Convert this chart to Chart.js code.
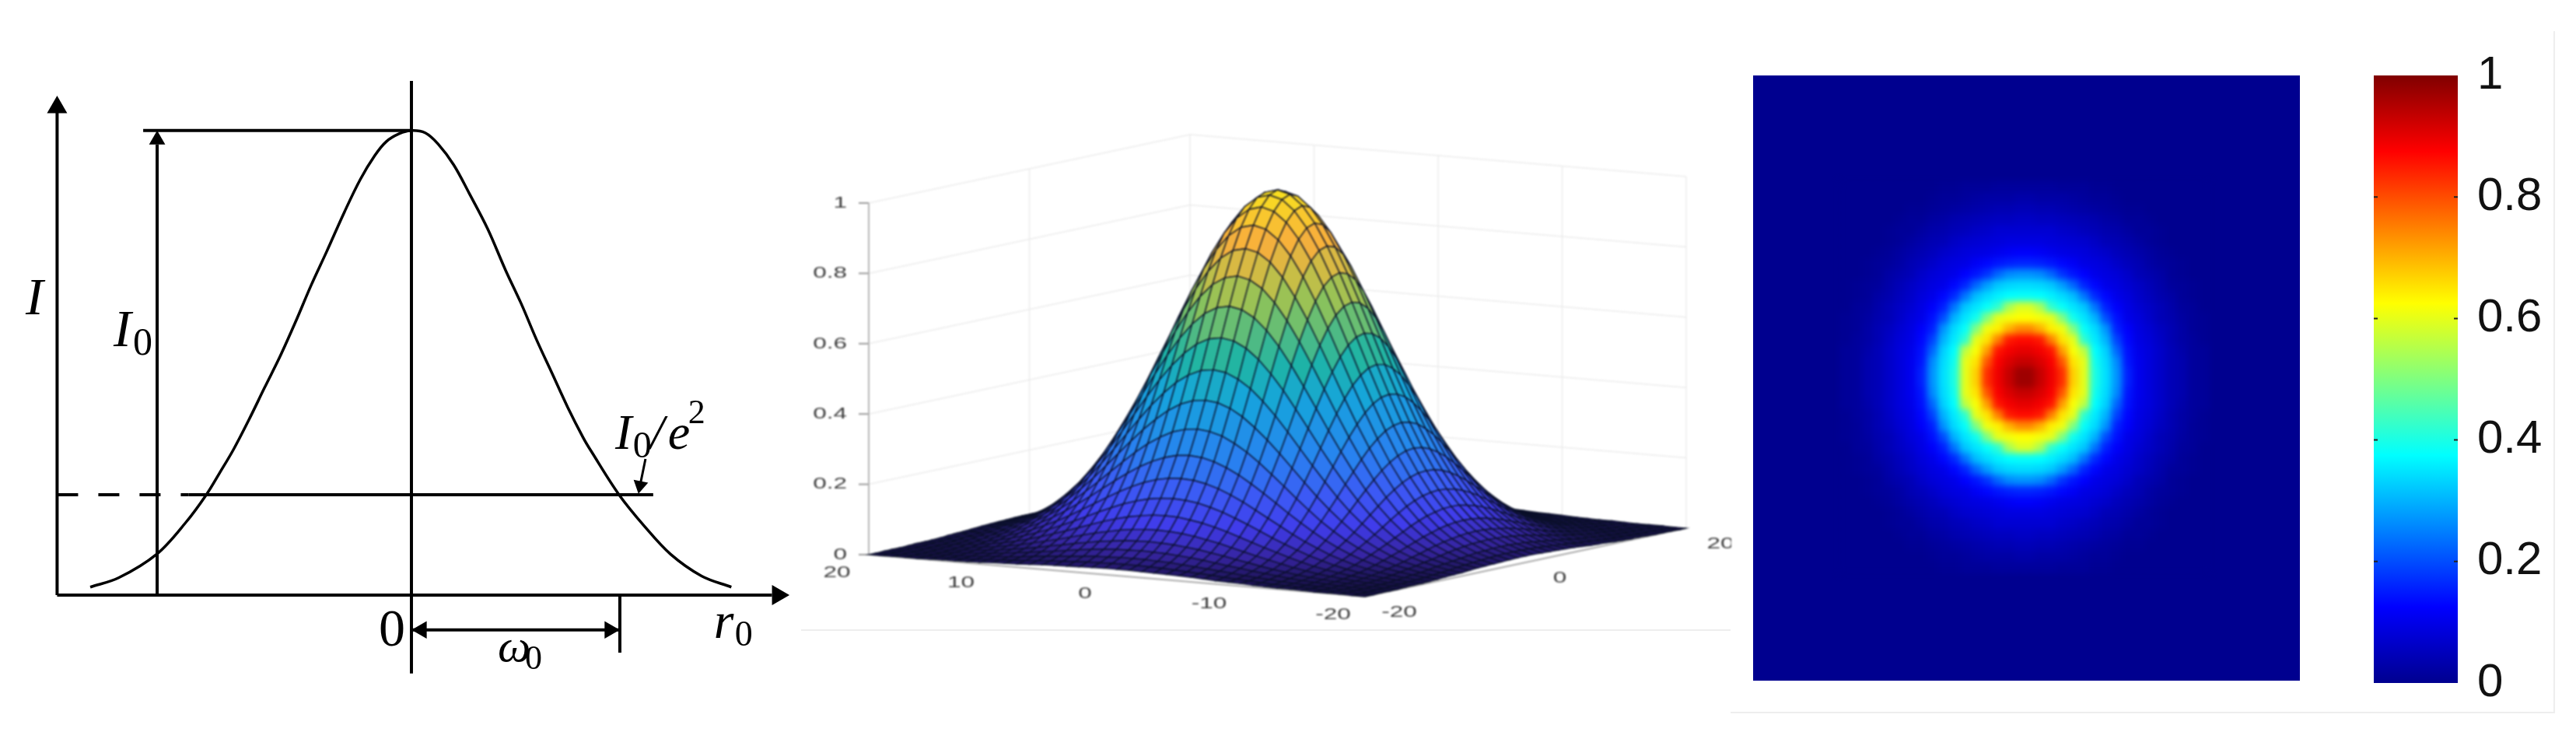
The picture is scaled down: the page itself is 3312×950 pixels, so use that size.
<!DOCTYPE html>
<html>
<head>
<meta charset="utf-8">
<title>Gaussian beam profile</title>
<script src="https://cdn.jsdelivr.net/npm/chart.js@4/dist/chart.umd.min.js"></script>
<style>
  html, body { margin: 0; padding: 0; background: #fff; }
  #page { position: relative; width: 3312px; height: 950px; overflow: hidden; }
  canvas { position: absolute; display: block; }
  #profile-chart { left: 0; top: 0; }
  #surface-chart { left: 1040px; top: 0; filter: blur(0.8px); }
  #heat-box { position: absolute; left: 2254px; top: 97px; width: 703px; height: 778px; background: #00008f; overflow: hidden; }
  #heat-chart { left: 0; top: 0; filter: blur(4px); }
  #bar-chart { left: 3036px; top: 0; }
  .rule { position: absolute; background: #eee; }
</style>
</head>
<body>
<div id="page">
  <canvas id="profile-chart" width="1040" height="950"></canvas>
  <canvas id="surface-chart" width="1186" height="950"></canvas>
  <div class="rule" style="left:1030px;top:809px;width:1195px;height:2px"></div>
  <div class="rule" style="left:2225px;top:915px;width:1058px;height:2px"></div>
  <div class="rule" style="left:3283px;top:40px;width:2px;height:877px"></div>
  <div id="heat-box"><canvas id="heat-chart" width="703" height="778"></canvas></div>
  <canvas id="bar-chart" width="276" height="950"></canvas>
</div>
<script>
// left panel: r in units of omega0, I in units of I0
const beamR = [-1.541, -1.405, -1.222, -1.083, -0.984, -0.920, -0.854, -0.780, -0.705, -0.631, -0.556, -0.481, -0.407, -0.320, -0.245, -0.176, -0.121, -0.059, 0, 0.066, 0.128, 0.203, 0.277, 0.365, 0.451, 0.526, 0.601, 0.675, 0.750, 0.825, 0.862, 0.996, 1.120, 1.243, 1.392, 1.535];
const beamI = [0.017, 0.037, 0.088, 0.156, 0.216, 0.263, 0.313, 0.377, 0.446, 0.513, 0.588, 0.667, 0.739, 0.826, 0.895, 0.946, 0.976, 0.993, 1, 0.995, 0.971, 0.926, 0.865, 0.789, 0.700, 0.628, 0.549, 0.477, 0.404, 0.338, 0.310, 0.216, 0.147, 0.088, 0.041, 0.017];
const peakI = 1;
const waistR = 1;
const thresholdI = 0.216;

// middle panel: heights for |u|, |v| = 0..20, the surface is the same in all four quadrants
const surfaceQuadrant = [
  [1.000, .990, .961, .914, .852, .779, .698, .613, .527, .445, .368, .298, .237, .185, .141, .105, .077, .056, .039, .027, .018],
  [.990, .980, .951, .905, .844, .771, .691, .607, .522, .441, .364, .295, .235, .183, .140, .104, .076, .055, .039, .027, .018],
  [.961, .951, .923, .878, .819, .749, .671, .589, .506, .428, .354, .286, .228, .178, .135, .101, .074, .054, .037, .026, .017],
  [.914, .905, .878, .835, .779, .712, .638, .560, .482, .407, .336, .272, .217, .169, .129, .096, .070, .051, .036, .025, .016],
  [.852, .844, .819, .779, .726, .664, .595, .522, .449, .379, .314, .254, .202, .158, .120, .089, .066, .048, .033, .023, .015],
  [.779, .771, .749, .712, .664, .607, .544, .478, .411, .347, .287, .232, .185, .144, .110, .082, .060, .044, .030, .021, .014],
  [.698, .691, .671, .638, .595, .544, .487, .428, .368, .311, .257, .208, .165, .129, .098, .073, .054, .039, .027, .019, .013],
  [.613, .607, .589, .560, .522, .478, .428, .376, .323, .273, .226, .183, .145, .113, .086, .064, .047, .034, .024, .017, .011],
  [.527, .522, .506, .482, .449, .411, .368, .323, .278, .235, .194, .157, .125, .097, .074, .055, .041, .030, .021, .014, .009],
  [.445, .441, .428, .407, .379, .347, .311, .273, .235, .198, .164, .133, .105, .082, .063, .047, .034, .025, .017, .012, .008],
  [.368, .364, .354, .336, .314, .287, .257, .226, .194, .164, .135, .110, .087, .068, .052, .039, .028, .021, .014, .010, .007],
  [.298, .295, .286, .272, .254, .232, .208, .183, .157, .133, .110, .089, .071, .055, .042, .031, .023, .017, .012, .008, .005],
  [.237, .235, .228, .217, .202, .185, .165, .145, .125, .105, .087, .071, .056, .044, .033, .025, .018, .013, .009, .006, .004],
  [.185, .183, .178, .169, .158, .144, .129, .113, .097, .082, .068, .055, .044, .034, .026, .019, .014, .010, .007, .005, .003],
  [.141, .140, .135, .129, .120, .110, .098, .086, .074, .063, .052, .042, .033, .026, .020, .015, .011, .008, .005, .004, .003],
  [.105, .104, .101, .096, .089, .082, .073, .064, .055, .047, .039, .031, .025, .019, .015, .011, .008, .006, .004, .003, .002],
  [.077, .076, .074, .070, .066, .060, .054, .047, .041, .034, .028, .023, .018, .014, .011, .008, .006, .004, .003, .002, .001],
  [.056, .055, .054, .051, .048, .044, .039, .034, .030, .025, .021, .017, .013, .010, .008, .006, .004, .003, .002, .002, .001],
  [.039, .039, .037, .036, .033, .030, .027, .024, .021, .017, .014, .012, .009, .007, .005, .004, .003, .002, .002, .001, .001],
  [.027, .027, .026, .025, .023, .021, .019, .017, .014, .012, .010, .008, .006, .005, .004, .003, .002, .002, .001, .001, 0],
  [.018, .018, .017, .016, .015, .014, .013, .011, .009, .008, .007, .005, .004, .003, .003, .002, .001, .001, .001, 0, 0]
];
const zTicks = [0, 0.2, 0.4, 0.6, 0.8, 1];
const uTicks = [20, 10, 0, -10, -20];
const vTicks = [-20, 0, 20];
const wallU = [20, 10, 0, -10, -20];

// right panel: normalised intensity, one quadrant of cells away from the centre
const heatQuadrant = [
  [.97, .93, .89, .83, .67, .60, .40, .345, .27, .155, .105, .085, .065, .045, .035, .015, .01],
  [.93, .91, .88, .79, .65, .60, .39, .34, .26, .145, .105, .085, .065, .045, .035, .015, .01],
  [.90, .885, .855, .72, .62, .56, .375, .33, .225, .14, .10, .085, .065, .045, .03, .015, .01],
  [.865, .85, .75, .65, .60, .42, .355, .30, .19, .13, .095, .08, .06, .04, .025, .015, .005],
  [.74, .70, .64, .61, .50, .38, .34, .27, .155, .12, .09, .075, .055, .04, .025, .01, .005],
  [.625, .615, .60, .50, .39, .35, .30, .20, .14, .10, .085, .065, .045, .035, .02, .01, .005],
  [.59, .54, .42, .38, .35, .32, .24, .155, .12, .095, .075, .06, .045, .03, .015, .01, 0],
  [.38, .375, .36, .34, .31, .24, .165, .13, .10, .085, .065, .05, .035, .025, .01, .005, 0],
  [.34, .335, .32, .28, .225, .16, .13, .10, .09, .075, .06, .045, .03, .015, .01, .005, 0],
  [.27, .26, .225, .175, .145, .125, .10, .09, .08, .065, .045, .035, .025, .01, .005, 0, 0],
  [.16, .155, .145, .13, .115, .095, .09, .08, .065, .05, .04, .025, .015, .01, .005, 0, 0],
  [.12, .115, .105, .095, .09, .085, .075, .065, .05, .04, .03, .02, .01, .005, 0, 0, 0],
  [.09, .09, .085, .08, .075, .07, .06, .045, .04, .03, .02, .01, .005, 0, 0, 0, 0],
  [.075, .075, .075, .065, .06, .05, .045, .035, .03, .02, .01, .01, .005, 0, 0, 0, 0],
  [.06, .055, .055, .05, .045, .04, .035, .025, .02, .01, .01, .005, 0, 0, 0, 0, 0],
  [.045, .04, .04, .035, .03, .025, .02, .015, .01, .005, .005, 0, 0, 0, 0, 0, 0],
  [.03, .025, .025, .025, .02, .015, .01, .01, .005, 0, 0, 0, 0, 0, 0, 0, 0],
  [.015, .015, .015, .01, .01, .01, .005, .005, 0, 0, 0, 0, 0, 0, 0, 0, 0]
];
const barRange = [0, 1];
const barTicks = [0, 0.2, 0.4, 0.6, 0.8, 1];

const jetStops = [[0, [0, 0, 143]], [0.125, [0, 0, 255]], [0.375, [0, 255, 255]], [0.625, [255, 255, 0]], [0.875, [255, 0, 0]], [1, [128, 0, 0]]];
const surfaceStops = [[0, [24, 16, 72]], [0.05, [54, 36, 160]], [0.12, [64, 60, 235]], [0.2, [60, 90, 245]], [0.3, [40, 130, 240]], [0.45, [22, 165, 220]], [0.55, [30, 180, 165]], [0.7, [140, 195, 90]], [0.78, [200, 190, 70]], [0.87, [248, 175, 60]], [1, [248, 225, 30]]];

function colorAt(stops, value) {
  for (let i = 1; i < stops.length; i++) {
    if (value <= stops[i][0]) {
      const [a, ca] = stops[i - 1];
      const [b, cb] = stops[i];
      const t = (value - a) / (b - a);
      const rgb = ca.map((c, k) => Math.round(c + (cb[k] - c) * t));
      return `rgb(${rgb.join(',')})`;
    }
  }
  return `rgb(${stops[stops.length - 1][1].join(',')})`;
}

function hiddenScales(xMin, xMax, yMin, yMax, reverseY) {
  return {
    x: { type: 'linear', display: false, min: xMin, max: xMax },
    y: { type: 'linear', display: false, min: yMin, max: yMax, reverse: !!reverseY }
  };
}

const baseOptions = {
  responsive: false,
  animation: false,
  events: [],
  layout: { autoPadding: false, padding: 0 },
  plugins: { legend: { display: false }, tooltip: { enabled: false } }
};

// ---------- left panel ----------
function blackLine(points, extra = {}) {
  return {
    data: points.map(([x, y]) => ({ x, y })),
    showLine: true,
    borderColor: '#000',
    borderWidth: 4,
    pointRadius: 0,
    fill: false,
    ...extra
  };
}

const serifItalic = size => `italic ${size}px "Liberation Serif"`;
const serif = size => `${size}px "Liberation Serif"`;
const profileLabels = [
  { text: 'I', r: -1.851, i: 0.605, font: serifItalic(68) },
  { text: 'I', r: -1.429, i: 0.536, font: serifItalic(68) },
  { text: '0', r: -1.336, i: 0.518, font: serif(50) },
  { text: 'I', r: 0.978, i: 0.315, font: serifItalic(64) },
  { text: '0', r: 1.063, i: 0.296, font: serif(48) },
  { text: '/', r: 1.146, i: 0.315, font: serifItalic(64) },
  { text: 'e', r: 1.231, i: 0.315, font: serifItalic(64) },
  { text: '2', r: 1.328, i: 0.370, font: serif(44) },
  { text: '0', r: -0.157, i: -0.109, font: serif(68) },
  { text: 'ω', r: 0.414, i: -0.142, font: serifItalic(60) },
  { text: '0', r: 0.545, i: -0.159, font: serif(44) },
  { text: 'r', r: 1.451, i: -0.092, font: serifItalic(66) },
  { text: '0', r: 1.552, i: -0.109, font: serif(46) }
];

const profileText = {
  id: 'profileText',
  afterDatasetsDraw(chart) {
    const { ctx, scales } = chart;
    ctx.save();
    ctx.fillStyle = '#000';
    ctx.textBaseline = 'alphabetic';
    profileLabels.forEach(l => {
      ctx.font = l.font;
      ctx.fillText(l.text, scales.x.getPixelForValue(l.r), scales.y.getPixelForValue(l.i));
    });
    ctx.restore();
  }
};

new Chart(document.getElementById('profile-chart'), {
  type: 'scatter',
  data: {
    datasets: [
      {
        data: [
          { x: -1.70, y: 1.050 }, { x: 1.758, y: 0 }, { x: -1.22, y: 0.980 },
          { x: 0.049, y: -0.075 }, { x: 0.951, y: -0.075 }, { x: 1.097, y: 0.236 }
        ],
        pointStyle: 'triangle',
        pointRadius: [15, 15, 12, 13, 13, 11],
        pointRotation: [0, 90, 0, 270, 90, 191],
        backgroundColor: '#000',
        borderWidth: 0
      },
      blackLine(beamR.map((r, k) => [r, beamI[k]]), { tension: 0.35, borderWidth: 3.5 }),
      blackLine([[-1.70, 0], [-1.70, 1.04]]),
      blackLine([[-1.70, 0], [1.73, 0]]),
      blackLine([[0, 1.107], [0, -0.169]]),
      blackLine([[-1.287, peakI], [0, peakI]]),
      blackLine([[-1.22, 0], [-1.22, 0.97]]),
      blackLine([[-1.70, thresholdI], [-1.07, thresholdI]], { borderDash: [27, 26] }),
      blackLine([[-1.07, thresholdI], [1.16, thresholdI]]),
      blackLine([[0, -0.075], [waistR, -0.075]]),
      blackLine([[waistR, 0], [waistR, -0.124]]),
      blackLine([[1.123, 0.293], [1.097, 0.236]], { borderWidth: 3 })
    ]
  },
  options: { ...baseOptions, scales: hiddenScales(-1.974, 1.907, -0.310, 1.281) },
  plugins: [profileText]
});

// ---------- middle panel ----------
function project(u, v, z) {
  const a = (u + 20) / 40;
  const b = (v + 20) / 40;
  return {
    x: 1755 - 638 * a + 413 * b,
    y: 767 - 54 * a - 88 * b - 452 * z
  };
}

function heightAt(u, v) {
  return surfaceQuadrant[Math.abs(u)][Math.abs(v)];
}

function wallLine(points, color = '#ececec', width = 1.5) {
  return { data: points, showLine: true, borderColor: color, borderWidth: width, pointRadius: 0, fill: false };
}

function surfaceDatasets() {
  const sets = [];
  // first dataset is drawn last, so start with the cells closest to the viewer
  for (let u = -20; u < 20; u++) {
    for (let v = -20; v < 20; v++) {
      const h = [heightAt(u, v), heightAt(u + 1, v), heightAt(u + 1, v + 1), heightAt(u, v + 1)];
      const mean = (h[0] + h[1] + h[2] + h[3]) / 4;
      sets.push({
        data: [
          project(u, v, h[0]), project(u + 1, v, h[1]), project(u + 1, v + 1, h[2]),
          project(u, v + 1, h[3]), project(u, v, h[0])
        ],
        showLine: true,
        fill: 'shape',
        backgroundColor: colorAt(surfaceStops, mean),
        borderColor: 'rgba(10,15,40,0.9)',
        borderWidth: 1.4,
        pointRadius: 0
      });
    }
  }
  return sets;
}

function wallDatasets() {
  const sets = [];
  zTicks.slice(1).forEach(z => {
    sets.push(wallLine([project(20, -20, z), project(20, 20, z), project(-20, 20, z)]));
  });
  sets.push(wallLine([project(20, 0, 0), project(20, 0, 1)]));
  wallU.forEach(u => sets.push(wallLine([project(u, 20, 0), project(u, 20, 1)])));
  return sets;
}

function axisDatasets() {
  const sets = [wallLine([project(20, -20, 0), project(20, -20, 1)], '#b5b5b5', 2)];
  zTicks.forEach(z => {
    const p = project(20, -20, z);
    sets.push(wallLine([p, { x: p.x - 13, y: p.y }], '#9a9a9a', 2));
  });
  sets.push(wallLine([project(20, -20, 0), project(-20, -20, 0), project(-20, 20, 0)], '#aaa', 2));
  return sets;
}

function stretchedText(ctx, text, x, y, align) {
  ctx.save();
  ctx.translate(x, y);
  ctx.scale(1.5, 1);
  ctx.textAlign = align;
  ctx.fillText(text, 0, 0);
  ctx.restore();
}

const surfaceText = {
  id: 'surfaceText',
  afterDatasetsDraw(chart) {
    const { ctx, scales } = chart;
    const px = p => scales.x.getPixelForValue(p.x);
    const py = p => scales.y.getPixelForValue(p.y);
    ctx.save();
    ctx.fillStyle = '#3c3c3c';
    ctx.font = '21px "Liberation Sans"';
    ctx.textBaseline = 'middle';
    zTicks.forEach(z => {
      const p = project(20, -20, z);
      stretchedText(ctx, String(z), px(p) - 28, py(p), 'right');
    });
    uTicks.forEach(u => {
      const p = project(u, -20, 0);
      stretchedText(ctx, String(u), px(p) - 41, py(p) + 23, 'center');
    });
    vTicks.forEach(v => {
      const p = project(-20, v, 0);
      stretchedText(ctx, String(v), px(p) + 44, py(p) + 20, 'center');
    });
    ctx.restore();
  }
};

new Chart(document.getElementById('surface-chart'), {
  type: 'scatter',
  data: { datasets: [...surfaceDatasets(), ...axisDatasets(), ...wallDatasets()] },
  options: { ...baseOptions, scales: hiddenScales(1040, 2226, 0, 950, true) },
  plugins: [surfaceText]
});

// ---------- right panel: heat map ----------
function heatPoints() {
  const pts = [];
  heatQuadrant.forEach((row, j) => {
    row.forEach((value, i) => {
      [-1, 1].forEach(sx => {
        [-1, 1].forEach(sy => {
          pts.push({ x: sx * (i + 0.5), y: sy * (j + 0.5), value });
        });
      });
    });
  });
  return pts;
}

new Chart(document.getElementById('heat-chart'), {
  type: 'scatter',
  data: {
    datasets: [{
      data: heatPoints(),
      pointStyle: 'rect',
      pointRadius: 10.7,
      borderWidth: 0,
      backgroundColor: c => colorAt(jetStops, c.raw ? c.raw.value : 0)
    }]
  },
  options: { ...baseOptions, scales: hiddenScales(-24.93, 25.29, -27.71, 27.86, true) }
});

// ---------- right panel: colour bar ----------
const barMarks = {
  id: 'barMarks',
  afterDatasetsDraw(chart) {
    const { ctx, chartArea, scales } = chart;
    ctx.save();
    ctx.strokeStyle = '#222';
    ctx.lineWidth = 2;
    barTicks.slice(1, -1).forEach(t => {
      const y = scales.y.getPixelForValue(t);
      ctx.beginPath();
      ctx.moveTo(chartArea.left, y);
      ctx.lineTo(chartArea.left + 5, y);
      ctx.moveTo(chartArea.right - 5, y);
      ctx.lineTo(chartArea.right, y);
      ctx.stroke();
    });
    ctx.restore();
  }
};

new Chart(document.getElementById('bar-chart'), {
  type: 'bar',
  data: {
    labels: [''],
    datasets: [{
      data: [barRange],
      barPercentage: 1,
      categoryPercentage: 1,
      borderWidth: 0,
      backgroundColor: c => {
        const area = c.chart.chartArea;
        if (!area) return '#00008f';
        const g = c.chart.ctx.createLinearGradient(0, area.bottom, 0, area.top);
        jetStops.forEach(([stop, rgb]) => g.addColorStop(stop, `rgb(${rgb.join(',')})`));
        return g;
      }
    }]
  },
  options: {
    ...baseOptions,
    layout: { autoPadding: false, padding: { left: 16, top: 97, bottom: 72, right: 0 } },
    scales: {
      x: { display: false },
      y: {
        position: 'right',
        min: 0,
        max: 1,
        afterFit: scale => { scale.width = 152; },
        afterBuildTicks: scale => { scale.ticks = barTicks.map(value => ({ value })); },
        grid: { display: false },
        border: { display: false },
        ticks: {
          color: '#111',
          padding: 17,
          font: { family: '"Liberation Sans"', size: 60 },
          callback: v => String(v)
        }
      }
    }
  },
  plugins: [barMarks]
});
</script>
</body>
</html>
